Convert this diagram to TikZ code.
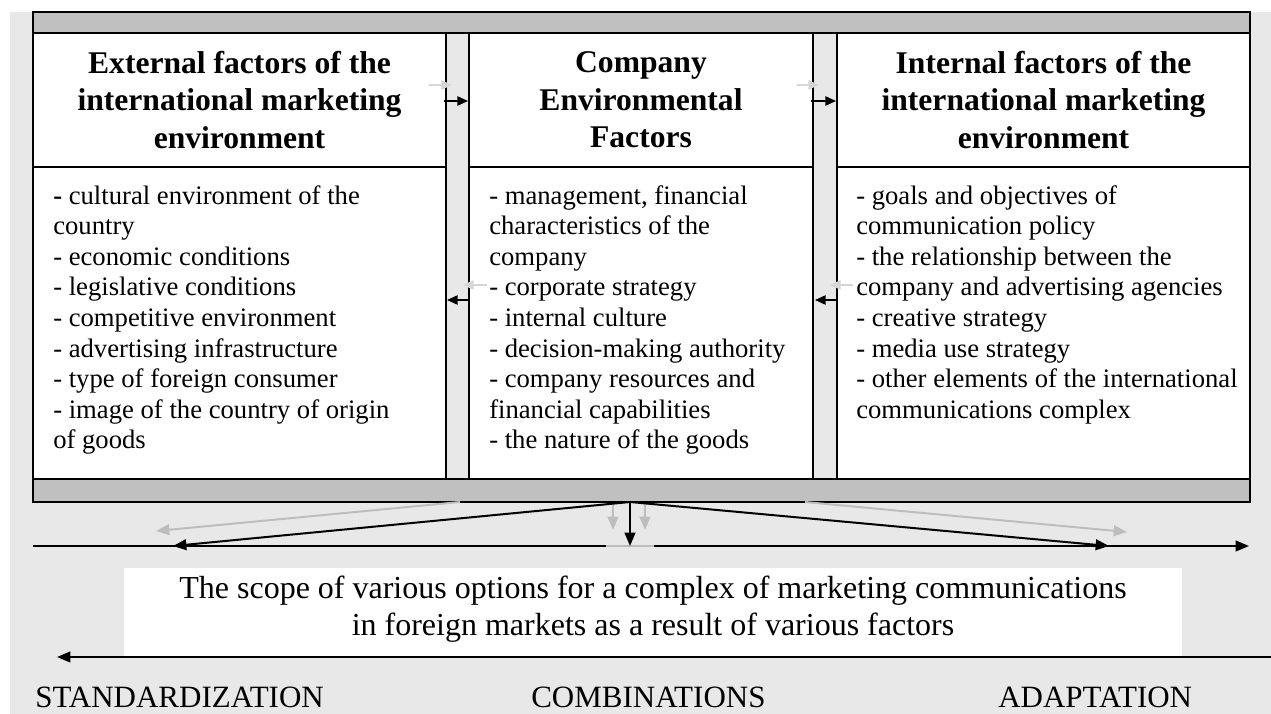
\documentclass[tikz,border=0pt]{standalone}
\usepackage{fontspec}
\setmainfont{Liberation Serif}
\usetikzlibrary{arrows.meta,fit}
\definecolor{bgg}{HTML}{E8E8E8}
\definecolor{barg}{HTML}{C0C0C0}
\definecolor{arrg}{HTML}{BDBDBD}
\definecolor{arrl}{HTML}{D6D6D6}
\begin{document}
\begin{tikzpicture}[x=0.75pt,y=-0.75pt,
 frame/.style={draw=black,line width=1.5pt,inner sep=0pt,outer sep=0pt},
 bar/.style={frame,fill=barg},
 strip/.style={frame,fill=bgg},
 colbox/.style={frame,fill=white},
 hdr/.style={align=center,font=\bfseries\fontsize{23.7}{28.1}\selectfont,inner sep=0pt},
 body/.style={align=left,anchor=north west,font=\fontsize{20}{22.95}\selectfont,inner sep=0pt},
 link/.style={line width=1.2pt,-{Triangle[length=8pt,width=7pt]}},
 flow/.style={line width=1.5pt,-{Triangle[length=10pt,width=8pt]}},
 gflow/.style={flow,draw=arrg},
 lbl/.style={anchor=base west,font=\fontsize{23.25}{27}\selectfont,inner sep=0pt}]
\useasboundingbox (0,0) rectangle (1271,714);
\fill[white] (0,0) rectangle (1271,714);
\fill[bgg] (10,12) rectangle (1271,714);

% columns and strips
\node[strip,fit={(446,33) (469,479)}] (s1) {};
\node[strip,fit={(813,33) (837,479)}] (s2) {};
\node[colbox,fit={(33,33) (446,479)}] (cL) {};
\node[colbox,fit={(469,33) (813,479)}] (cM) {};
\node[colbox,fit={(837,33) (1250,479)}] (cR) {};
\node[bar,fit={(33,12) (1250,33)}] (topbar) {};
\node[bar,fit={(33,479) (1250,502)}] (botbar) {};

% header separators
\draw[line width=1.5pt] (cL.west |- 0,167) -- (cL.east |- 0,167);
\draw[line width=1.5pt] (cM.west |- 0,167) -- (cM.east |- 0,167);
\draw[line width=1.5pt] (cR.west |- 0,167) -- (cR.east |- 0,167);

% headers
\node[hdr] (hL) at (239.5,100) {External factors of the\\international marketing\\environment};
\node[hdr] (hM) at (641,100) {Company\\Environmental\\Factors};
\node[hdr] (hR) at (1043.5,100) {Internal factors of the\\international marketing\\environment};

% bodies
\node[body] (bL) at (53,185) {\textbf{-} cultural environment of the\\country\\- economic conditions\\- legislative conditions\\- competitive environment\\- advertising infrastructure\\- type of foreign consumer\\- image of the country of origin\\of goods};
\node[body] (bM) at (489,185) {- management, financial\\characteristics of the\\company\\- corporate strategy\\- internal culture\\- decision-making authority\\- company resources and\\financial capabilities\\- the nature of the goods};
\node[body] (bR) at (856,185) {- goals and objectives of\\communication policy\\- the relationship between the\\company and advertising agencies\\- creative strategy\\- media use strategy\\- other elements of the international\\communications complex};

% arrows between columns
\coordinate (g1a) at (429,85);  \coordinate (g1b) at (452,85);
\coordinate (k1a) at (444,101); \coordinate (k1b) at (468,101);
\coordinate (g2a) at (797,85);  \coordinate (g2b) at (819,85);
\coordinate (k2a) at (811,101); \coordinate (k2b) at (836,101);
\coordinate (g3a) at (487,285); \coordinate (g3b) at (463,285);
\coordinate (k3a) at (470,300); \coordinate (k3b) at (447,300);
\coordinate (g4a) at (853,285); \coordinate (g4b) at (830,285);
\coordinate (k4a) at (837,300); \coordinate (k4b) at (815,300);
\draw[link,draw=arrl] (g1a) -- (g1b);
\draw[link,draw=arrl] (g2a) -- (g2b);
\draw[link,draw=arrl] (g3a) -- (g3b);
\draw[link,draw=arrl] (g4a) -- (g4b);
\draw[link] (k1a) -- (k1b);
\draw[link] (k2a) -- (k2b);
\draw[link] (k3a) -- (k3b);
\draw[link] (k4a) -- (k4b);

% lower axis and convergent arrows
\coordinate (axL) at (33,546);   \coordinate (axR) at (1249,546);
\coordinate (apex) at (630,502);
\coordinate (tipL) at (173,546); \coordinate (tipR) at (1109,546); \coordinate (tipM) at (630,546);
\coordinate (gLs) at (460,502);  \coordinate (gLe) at (156,531);
\coordinate (gRs) at (805,502);  \coordinate (gRe) at (1127,532);
\coordinate (gd1s) at (613,503); \coordinate (gd1e) at (613,530);
\coordinate (gd2s) at (645,503); \coordinate (gd2e) at (645,530);
\coordinate (gsegL) at (606,546); \coordinate (gsegR) at (654,546);
\draw[flow] (axL) -- (axR);
\draw[gflow] (gLs) -- (gLe);
\draw[gflow] (gRs) -- (gRe);
\draw[gflow] (gd1s) -- (gd1e);
\draw[gflow] (gd2s) -- (gd2e);
\draw[line width=1.5pt,draw=arrg] (gsegL) -- (gsegR);
\draw[flow] (apex) -- (tipL);
\draw[flow] (apex) -- (tipR);
\draw[flow] (apex) -- (tipM);

% bottom axis and scope box
\coordinate (bxR) at (1271,657); \coordinate (bxL) at (57,657);
\draw[flow] (bxR) -- (bxL);
\node[fill=white,inner sep=0pt,fit={(124,568) (1182,656)}] (scopebox) {};
\node[align=center,font=\fontsize{24}{27.75}\selectfont,inner sep=0pt] (scope) at (653,609)
 {The scope of various options for a complex of marketing communications\\in foreign markets as a result of various factors};

% bottom labels
\node[lbl] (std) at (35,707) {STANDARDIZATION};
\node[lbl] (comb) at (531,707) {COMBINATIONS};
\node[lbl] (adp) at (998,707) {ADAPTATION};
\end{tikzpicture}
\end{document}
